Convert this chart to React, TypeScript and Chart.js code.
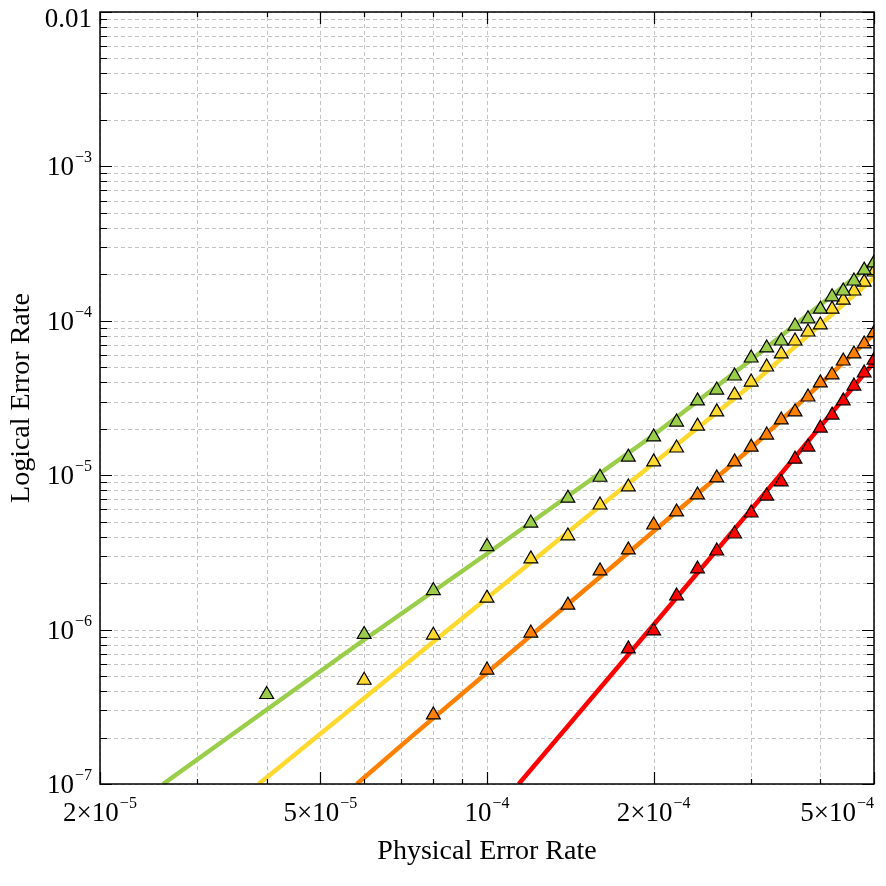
import React, { useEffect, useRef } from "react";
import { Chart, registerables } from "chart.js";

Chart.register(...registerables);

// Physical error rates at which the markers were sampled
const P_RATES = [
  4e-5, 6e-5, 8e-5, 1e-4, 1.2e-4, 1.4e-4, 1.6e-4, 1.8e-4, 2e-4, 2.2e-4, 2.4e-4, 2.6e-4,
  2.8e-4, 3e-4, 3.2e-4, 3.4e-4, 3.6e-4, 3.8e-4, 4e-4, 4.2e-4, 4.4e-4, 4.6e-4, 4.8e-4, 5e-4,
];

const GREEN_X = P_RATES;
const GREEN_Y = [
  3.8e-7, 9.3e-7, 1.79e-6, 3.45e-6, 4.9e-6, 7.1e-6, 9.7e-6, 1.31e-5, 1.77e-5, 2.21e-5, 3.03e-5, 3.56e-5,
  4.39e-5, 5.74e-5, 6.67e-5, 7.4e-5, 9.25e-5, 1.03e-4, 1.19e-4, 1.43e-4, 1.56e-4, 1.81e-4, 2.13e-4, 2.37e-4,
];

const YELLOW_X = P_RATES.slice(1);
const YELLOW_Y = [
  4.7e-7, 9.2e-7, 1.6e-6, 2.87e-6, 4.04e-6, 6.41e-6, 8.39e-6, 1.22e-5, 1.5e-5, 2.08e-5, 2.57e-5, 3.31e-5,
  4.01e-5, 5.02e-5, 6.1e-5, 7.4e-5, 8.46e-5, 9.4e-5, 1.19e-4, 1.36e-4, 1.56e-4, 1.78e-4, 2.07e-4,
];

const ORANGE_X = P_RATES.slice(2);
const ORANGE_Y = [
  2.8e-7, 5.47e-7, 9.5e-7, 1.44e-6, 2.4e-6, 3.28e-6, 4.76e-6, 5.78e-6, 7.45e-6, 9.6e-6, 1.22e-5,
  1.52e-5, 1.82e-5, 2.28e-5, 2.57e-5, 3.21e-5, 3.96e-5, 4.46e-5, 5.49e-5, 6.1e-5, 7.08e-5, 8.34e-5,
];

const RED_X = P_RATES.slice(7);
const RED_Y = [
  7.5e-7, 9.8e-7, 1.65e-6, 2.47e-6, 3.23e-6, 4.16e-6, 5.69e-6, 7.33e-6, 9.04e-6, 1.27e-5, 1.52e-5,
  2.02e-5, 2.45e-5, 3.03e-5, 3.78e-5, 4.59e-5, 5.57e-5,
];

// Fitted curves
const GREEN_FIT_X = [2.6e-5, 6e-5, 1e-4, 2e-4, 3e-4, 5e-4];
const GREEN_FIT_Y = [1e-7, 8.6e-7, 3.1e-6, 1.82e-5, 5.6e-5, 2.4e-4];
const YELLOW_FIT_X = [3.87e-5, 8.93e-5, 1.49e-4, 3e-4, 5e-4];
const YELLOW_FIT_Y = [1e-7, 1.15e-6, 5.13e-6, 3.84e-5, 1.9e-4];
const ORANGE_FIT_X = [5.82e-5, 7.26e-5, 1.6e-4, 3e-4, 5e-4];
const ORANGE_FIT_Y = [1e-7, 1.99e-7, 2.19e-6, 1.5e-5, 8.2e-5];
const RED_FIT_X = [1.141e-4, 1.645e-4, 3.08e-4, 5e-4];
const RED_FIT_Y = [1e-7, 4.7e-7, 6.7e-6, 5.4e-5];

const COLORS = ["#9ACD4A", "#FFD92E", "#FF8000", "#FF0000"];

// Axes
const X_MIN = 2e-5;
const X_MAX = 5e-4;
const Y_MIN = 1e-7;
const Y_MAX = 1e-2;
const X_GRID = [2e-5, 3e-5, 4e-5, 5e-5, 6e-5, 7e-5, 8e-5, 9e-5, 1e-4, 2e-4, 3e-4, 4e-4, 5e-4];
const X_TICK_VALUES = [2e-5, 5e-5, 1e-4, 2e-4, 5e-4];
const X_TICK_BASES = ["2×10", "5×10", "10", "2×10", "5×10"];
const X_TICK_SUPS = ["−5", "−5", "−4", "−4", "−4"];
const Y_DECADES = [1e-7, 1e-6, 1e-5, 1e-4, 1e-3];
const Y_MULTS = [1, 2, 3, 4, 5, 6, 7, 8, 9];
const Y_TICK_VALUES = [1e-7, 1e-6, 1e-5, 1e-4, 1e-3, 1e-2];
const Y_TICK_BASES = ["10", "10", "10", "10", "10", "0.01"];
const Y_TICK_SUPS = ["−7", "−6", "−5", "−4", "−3", ""];
const Y_GRID = [...Y_DECADES.flatMap((d) => Y_MULTS.map((m) => m * d)), 1e-2];

const X_TITLE = "Physical Error Rate";
const Y_TITLE = "Logical Error Rate";

const FAMILY = '"Liberation Serif", "DejaVu Serif", serif';
const MAIN_FONT = `27px ${FAMILY}`;
const SUP_FONT = `16px ${FAMILY}`;
const TITLE_FONT = `28px ${FAMILY}`;

function pts(xs: number[], ys: number[]) {
  return xs.map((x, i) => ({ x, y: ys[i] }));
}

function drawSupLabel(
  ctx: CanvasRenderingContext2D,
  base: string,
  sup: string,
  anchorX: number,
  baseline: number,
  align: "right" | "center",
  maxRight: number
) {
  ctx.font = MAIN_FONT;
  const w1 = ctx.measureText(base).width;
  ctx.font = SUP_FONT;
  const w2 = sup ? ctx.measureText(sup).width + 1 : 0;
  const total = w1 + w2;
  let start = align === "right" ? anchorX - total : anchorX - total / 2;
  if (start + total > maxRight) start = maxRight - total;
  ctx.textAlign = "left";
  ctx.textBaseline = "alphabetic";
  ctx.font = MAIN_FONT;
  ctx.fillText(base, start, baseline);
  if (sup) {
    ctx.font = SUP_FONT;
    ctx.fillText(sup, start + w1 + 1, baseline - 13);
  }
}

const gridPlugin = {
  id: "dashedGrid",
  beforeDatasetsDraw(chart: any) {
    const { ctx, chartArea: a, scales } = chart;
    ctx.save();
    ctx.strokeStyle = "#c4c4c4";
    ctx.lineWidth = 1;
    ctx.setLineDash([4, 3]);
    ctx.beginPath();
    for (const v of X_GRID) {
      const px = Math.round(scales.x.getPixelForValue(v)) + 0.5;
      ctx.moveTo(px, a.bottom);
      ctx.lineTo(px, a.top);
    }
    for (const v of Y_GRID) {
      const py = Math.round(scales.y.getPixelForValue(v)) + 0.5;
      ctx.moveTo(a.left, py);
      ctx.lineTo(a.right, py);
    }
    ctx.stroke();
    ctx.restore();
  },
};

const framePlugin = {
  id: "frameAndLabels",
  afterDraw(chart: any) {
    const { ctx, chartArea: a, scales } = chart;
    const xs = scales.x;
    const ys = scales.y;
    ctx.save();
    ctx.strokeStyle = "#000";
    ctx.lineWidth = 1.2;
    ctx.beginPath();
    for (const v of X_GRID) {
      const px = Math.round(xs.getPixelForValue(v)) + 0.5;
      const len = X_TICK_VALUES.includes(v) ? 12 : 5;
      ctx.moveTo(px, a.bottom);
      ctx.lineTo(px, a.bottom - len);
      ctx.moveTo(px, a.top);
      ctx.lineTo(px, a.top + len);
    }
    for (const v of Y_GRID) {
      const py = Math.round(ys.getPixelForValue(v)) + 0.5;
      const len = Y_TICK_VALUES.includes(v) ? 12 : 7;
      ctx.moveTo(a.left, py);
      ctx.lineTo(a.left + len, py);
      ctx.moveTo(a.right, py);
      ctx.lineTo(a.right - len, py);
    }
    ctx.stroke();
    ctx.lineWidth = 1.5;
    ctx.strokeRect(a.left, a.top, a.right - a.left, a.bottom - a.top);

    ctx.fillStyle = "#000";
    Y_TICK_VALUES.forEach((v, i) => {
      let py = ys.getPixelForValue(v);
      if (i === Y_TICK_VALUES.length - 1) py += 6;
      drawSupLabel(ctx, Y_TICK_BASES[i], Y_TICK_SUPS[i], a.left - 8, py + 9, "right", 9999);
    });
    X_TICK_VALUES.forEach((v, i) => {
      const px = xs.getPixelForValue(v);
      drawSupLabel(ctx, X_TICK_BASES[i], X_TICK_SUPS[i], px, a.bottom + 37, "center", a.right);
    });
    ctx.font = TITLE_FONT;
    ctx.textAlign = "center";
    ctx.textBaseline = "middle";
    ctx.fillText(X_TITLE, (a.left + a.right) / 2, a.bottom + 68);
    ctx.save();
    ctx.translate(22, (a.top + a.bottom) / 2);
    ctx.rotate(-Math.PI / 2);
    ctx.fillText(Y_TITLE, 0, 0);
    ctx.restore();
    ctx.restore();
  },
};

export default function App() {
  const ref = useRef<HTMLCanvasElement | null>(null);

  useEffect(() => {
    if (!ref.current) return;
    const markerSets = [
      [GREEN_X, GREEN_Y],
      [YELLOW_X, YELLOW_Y],
      [ORANGE_X, ORANGE_Y],
      [RED_X, RED_Y],
    ];
    const fitSets = [
      [GREEN_FIT_X, GREEN_FIT_Y],
      [YELLOW_FIT_X, YELLOW_FIT_Y],
      [ORANGE_FIT_X, ORANGE_FIT_Y],
      [RED_FIT_X, RED_FIT_Y],
    ];
    const datasets: any[] = [];
    markerSets.forEach(([xs, ys], i) => {
      datasets.push({
        data: pts(xs, ys),
        showLine: false,
        pointStyle: "triangle",
        pointRadius: 8,
        pointBackgroundColor: COLORS[i],
        pointBorderColor: "#000",
        pointBorderWidth: 1.2,
        clip: 0,
        order: 0,
      });
    });
    fitSets.forEach(([xs, ys], i) => {
      datasets.push({
        data: pts(xs, ys),
        showLine: true,
        borderColor: COLORS[i],
        borderWidth: 4.5,
        pointRadius: 0,
        tension: 0,
        clip: 0,
        order: 1,
      });
    });

    const chart = new Chart(ref.current, {
      type: "scatter",
      data: { datasets },
      options: {
        animation: false,
        responsive: false,
        events: [],
        layout: { padding: { left: 0, right: 12, top: 12, bottom: 0 } },
        plugins: { legend: { display: false }, tooltip: { enabled: false } },
        scales: {
          x: {
            type: "logarithmic",
            min: X_MIN,
            max: X_MAX,
            afterBuildTicks: (axis: any) => {
              axis.ticks = X_GRID.map((value) => ({ value }));
            },
            afterFit: (axis: any) => {
              axis.height = 102;
            },
            ticks: { display: false },
            border: { display: false },
            grid: { display: false },
          },
          y: {
            type: "logarithmic",
            min: Y_MIN,
            max: Y_MAX,
            afterBuildTicks: (axis: any) => {
              axis.ticks = Y_GRID.map((value) => ({ value }));
            },
            afterFit: (axis: any) => {
              axis.width = 100;
            },
            ticks: { display: false },
            border: { display: false },
            grid: { display: false },
          },
        },
      },
      plugins: [gridPlugin, framePlugin],
    });
    return () => chart.destroy();
  }, []);

  return (
    <div style={{ position: "fixed", left: 0, top: 0, width: 886, height: 886, background: "#fff" }}>
      <canvas ref={ref} width={886} height={886} style={{ width: 886, height: 886, display: "block" }} />
    </div>
  );
}
